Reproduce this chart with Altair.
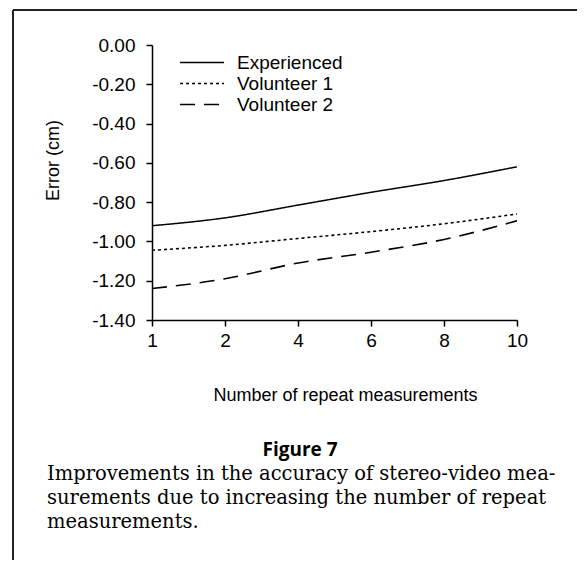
import altair as alt
import pandas as pd

# ---- data ----
repeats = ["1", "2", "4", "6", "8", "10"]
series = ["Experienced", "Volunteer 1", "Volunteer 2"]
experienced = [-0.92, -0.88, -0.815, -0.75, -0.69, -0.62]
volunteer1 = [-1.045, -1.02, -0.985, -0.95, -0.91, -0.86]
volunteer2 = [-1.24, -1.19, -1.11, -1.055, -0.99, -0.895]
y_ticks = [0.0, -0.2, -0.4, -0.6, -0.8, -1.0, -1.2, -1.4]

figure_label = "Figure 7"
caption_lines = [
    "Improvements in the accuracy of stereo-video mea-",
    "surements due to increasing the number of repeat",
    "measurements.",
]

rows = []
for name, vals in zip(series, [experienced, volunteer1, volunteer2]):
    for r, v in zip(repeats, vals):
        rows.append({"repeats": r, "error": v, "series": name})
df = pd.DataFrame(rows)

W, H = 365, 275

lines = alt.Chart(df).mark_line(color="black", interpolate="monotone").encode(
    x=alt.X("repeats:O", sort=repeats,
            scale=alt.Scale(padding=0),
            axis=alt.Axis(title="Number of repeat measurements", labelAngle=0,
                          titleX=193, titleY=75, titleBaseline="middle",
                          titleAlign="center", labelPadding=5)),
    y=alt.Y("error:Q", scale=alt.Scale(domain=[-1.4, 0], nice=False),
            axis=alt.Axis(title="Error (cm)", values=y_ticks,
                          labelExpr="replace(format(datum.value, '.2f'), '\u2212', '-')",
                          titleX=-99, titleY=115, titleAngle=-90,
                          titleAlign="center", titleBaseline="middle", labelPadding=11)),
    strokeDash=alt.StrokeDash("series:N",
                              scale=alt.Scale(domain=series, range=[[1, 0], [3, 3], [15, 9]]),
                              legend=alt.Legend(title=None, orient="none", legendX=40.5, legendY=8,
                                                symbolType="M-4,0H4", symbolSize=121,
                                                symbolStrokeWidth=1.6, symbolStrokeColor="black",
                                                symbolFillColor="transparent",
                                                labelFontSize=19, labelFont="Liberation Sans",
                                                labelColor="black", labelOffset=25.5, rowPadding=1,
                                                padding=0)),
    strokeWidth=alt.StrokeWidth("series:N",
                                scale=alt.Scale(domain=series, range=[1.5, 1.6, 2.5]),
                                legend=None),
)

fig_text = alt.Chart(pd.DataFrame({"t": [figure_label]})).mark_text(
    font="Open Sans", fontWeight="bold", fontSize=19, align="center", baseline="middle",
    color="black"
).encode(text="t:N", x=alt.value(148), y=alt.value(405))

cap_text = alt.Chart(pd.DataFrame({"t": ["\n".join(caption_lines)]})).mark_text(
    font="DejaVu Serif", fontSize=19.5, align="left", baseline="top", lineBreak="\n",
    lineHeight=24, color="black"
).encode(text="t:N", x=alt.value(-105), y=alt.value(420))

frame_top = alt.Chart(pd.DataFrame({"a": [0]})).mark_rule(color="#222", strokeWidth=2).encode(
    x=alt.value(-139), x2=alt.value(433), y=alt.value(-35))
frame_left = alt.Chart(pd.DataFrame({"a": [0]})).mark_rule(color="#222", strokeWidth=2).encode(
    x=alt.value(-139), y=alt.value(-35), y2=alt.value(523))

chart = alt.layer(lines, fig_text, cap_text, frame_top, frame_left).properties(
    width=W, height=H,
    autosize=alt.AutoSizeParams(type="none"),
    padding={"left": 144, "top": 37, "right": 585 - 16 - 144 - W, "bottom": 568 - 16 - 37 - H},
    background="white",
).configure_view(stroke=None).configure_axis(
    grid=False, domainColor="black", domainWidth=1.5, tickColor="black", tickWidth=1.5,
    tickSize=6, labelFont="Liberation Sans", labelFontSize=19, labelColor="black",
    titleFont="Liberation Sans", titleFontSize=18, titleFontWeight="normal", titleColor="black",
)

chart.save("out.html", embed_options={"renderer": "svg", "actions": False})
